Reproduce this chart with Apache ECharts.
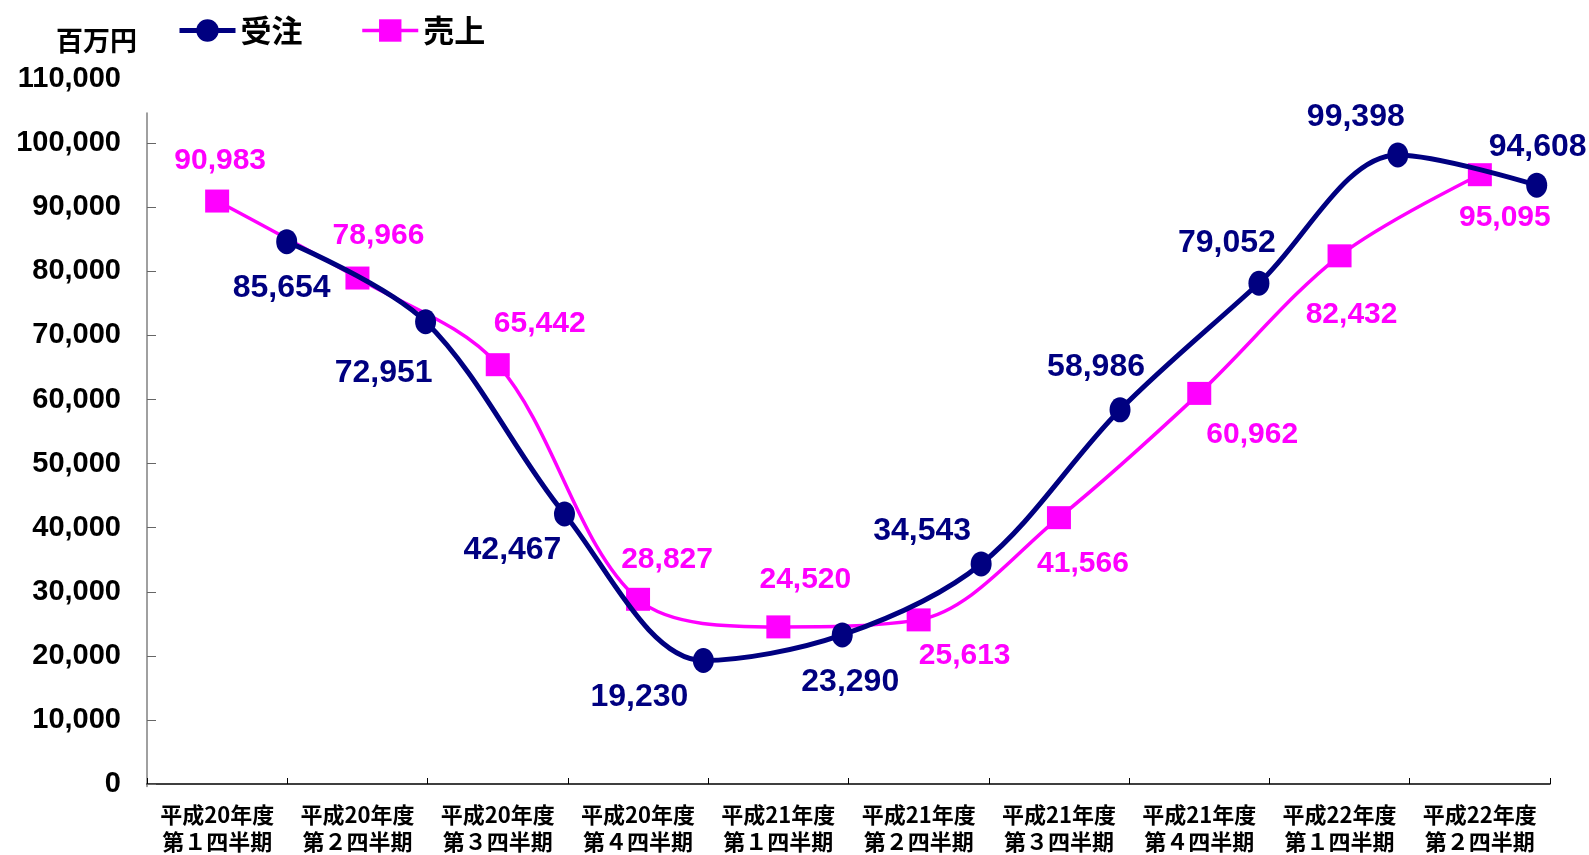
<!DOCTYPE html>
<html>
<head>
<meta charset="utf-8">
<script src="https://cdn.jsdelivr.net/npm/echarts@6/dist/echarts.min.js"></script>
<style>
html,body{margin:0;padding:0;background:#fff;}
#chart{width:1589px;height:855px;}
</style>
</head>
<body>
<div id="chart"></div>
<script>
// ---- data ----
const categories = [
  '平成20年度\n第１四半期','平成20年度\n第２四半期','平成20年度\n第３四半期','平成20年度\n第４四半期',
  '平成21年度\n第１四半期','平成21年度\n第２四半期','平成21年度\n第３四半期','平成21年度\n第４四半期',
  '平成22年度\n第１四半期','平成22年度\n第２四半期'
];
const ordersName = '受注';
const salesName = '売上';
const orders = [85654, 72951, 42467, 19230, 23290, 34543, 58986, 79052, 99398, 94608];
const sales  = [90983, 78966, 65442, 28827, 24520, 25613, 41566, 60962, 82432, 95095];
const yTickValues = [0, 10000, 20000, 30000, 40000, 50000, 60000, 70000, 80000, 90000, 100000];
const unitLabel = '百万円';

// ---- layout (label offsets, px) ----
const ordersLabelOffset = [[-5,47],[-42,51],[-52,36],[-64,37],[8,47],[-59,-33],[-24,-43],[-32,-40],[-42,-38],[1,-38]];
const salesLabelOffset  = [[3,-40],[21,-42],[42,-41],[29,-40],[27,-47],[46,36],[24,46],[53,41],[12,59],[25,43]];

const NUMF = "'Liberation Sans',Arial,sans-serif";
const CJK = "'Noto Sans CJK JP','Noto Sans',sans-serif";
const fmt = v => Number(v).toLocaleString('en-US');

const chart = echarts.init(document.getElementById('chart'));
chart.setOption({
  animation: false,
  backgroundColor: '#fff',
  title: {
    text: unitLabel, left: 56, top: 27, padding: 0,
    textStyle: { fontFamily: CJK, fontSize: 27, fontWeight: 'bold', color: '#000' }
  },
  legend: {
    left: 177, top: 15, padding: 0,
    itemWidth: 56, itemHeight: 28, itemGap: 58,
    lineStyle: { width: 'inherit' },
    textStyle: { fontFamily: CJK, fontSize: 31, fontWeight: 'bold', color: '#000' },
    data: [ordersName, salesName]
  },
  grid: [
    { left: 147, right: 39, top: 79.2, bottom: 68.5 },      // main (sales + labels)
    { left: 286.7, right: 52.3, top: 88.1, bottom: 73.2 },  // secondary (orders)
    { left: 147, right: 39, top: 113, bottom: 68.5 }        // y axis line
  ],
  xAxis: [
    {
      gridIndex: 0, type: 'category', data: categories, boundaryGap: true,
      axisLine: { show: true, lineStyle: { color: '#000', width: 1.5 } },
      axisTick: { show: true, inside: true, length: 6, lineStyle: { color: '#000' } },
      axisLabel: { margin: 17, fontFamily: CJK, fontSize: 22, fontWeight: 'bold', color: '#000', lineHeight: 27, interval: 0 },
      splitLine: { show: false }
    },
    { gridIndex: 1, type: 'category', data: categories, boundaryGap: false, show: false },
    { gridIndex: 2, type: 'category', data: categories, show: false }
  ],
  yAxis: [
    {
      gridIndex: 0, type: 'value', min: 0, max: 110000, interval: 10000,
      axisLine: { show: false },
      axisTick: { show: true, inside: true, length: 9, customValues: yTickValues, lineStyle: { color: '#666' } },
      axisLabel: { margin: 26, fontFamily: NUMF, fontSize: 29, fontWeight: 'bold', color: '#000', formatter: fmt },
      splitLine: { show: false }
    },
    { gridIndex: 1, type: 'value', min: 0, max: 110000, show: false },
    {
      gridIndex: 2, type: 'value', min: 0, max: 100000,
      axisLine: { show: true, lineStyle: { color: '#808080', width: 1.5 } },
      axisTick: { show: false }, axisLabel: { show: false }, splitLine: { show: false }
    }
  ],
  series: [
    {
      name: salesName, type: 'line', xAxisIndex: 0, yAxisIndex: 0,
      smooth: 0.33, symbol: 'rect', symbolSize: [24, 23], z: 2,
      itemStyle: { color: '#FF00FF' },
      lineStyle: { color: '#FF00FF', width: 3.5 },
      label: {
        show: true, position: 'inside', align: 'center', verticalAlign: 'middle',
        fontFamily: NUMF, fontSize: 30, fontWeight: 'bold', color: '#FF00FF',
        formatter: p => fmt(p.value)
      },
      data: sales.map((v, i) => ({ value: v, label: { offset: salesLabelOffset[i] } }))
    },
    {
      name: ordersName, type: 'line', xAxisIndex: 1, yAxisIndex: 1,
      smooth: 0.33, symbol: 'circle', symbolSize: [21, 25], z: 3,
      itemStyle: { color: '#000080' },
      lineStyle: { color: '#000080', width: 5 },
      label: {
        show: true, position: 'inside', align: 'center', verticalAlign: 'middle',
        fontFamily: NUMF, fontSize: 32, fontWeight: 'bold', color: '#000080',
        formatter: p => fmt(p.value)
      },
      data: orders.map((v, i) => ({ value: v, label: { offset: ordersLabelOffset[i] } }))
    }
  ]
});
</script>
</body>
</html>
